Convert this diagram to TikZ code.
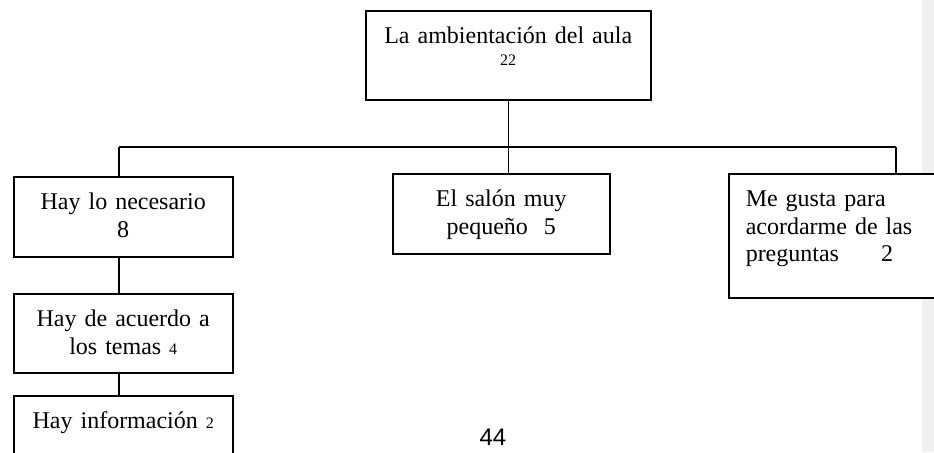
\documentclass[tikz,border=0pt]{standalone}
\usepackage{fontspec}
\setmainfont{Liberation Serif}
\newfontfamily\pagfont{Liberation Sans}
\usetikzlibrary{calc,positioning}
\tikzset{font={\fontsize{12pt}{13.8pt}\selectfont}}
\definecolor{margen}{HTML}{F0F0F0}
\tikzstyle{caja}=[draw,fill=white,line width=0.75pt,anchor=north west,align=center,inner xsep=4.5pt,inner ysep=4.5pt,text height=12pt]
\tikzstyle{linea}=[line width=0.75pt]
\newcommand{\cant}[1]{{\fontsize{8pt}{9pt}\selectfont #1}}

\begin{document}
\begin{tikzpicture}[x=0.5pt,y=-0.5pt]
        \clip (0,0) rectangle (934,452);
        \fill[margen] (922,0) rectangle (934,452);
        %
        \node[caja, text width=133.5pt, text depth=23.5pt] (raiz) at (365,10) {La ambientación del aula\\[-2.8pt]\cant{22}};
        \node[caja, text width=100.5pt, text depth=19pt] (nec) at (13,176) {Hay lo necesario\\8};
        \node[caja, text width=100.5pt, text depth=18.5pt] (temas) at (13,293) {Hay de acuerdo a\\los temas \cant{4}};
        \node[caja, text width=100.5pt, text depth=19pt] (info) at (13,395) {Hay información \cant{2}};
        \node[caja, text width=99.5pt, text depth=19pt] (salon) at (392,173) {El salón muy\\pequeño\hspace{8pt}5};
        \node[caja, align=left, inner xsep=8.5pt, text width=92.5pt, text depth=41pt] (gusta) at (728,173) {Me gusta para\\acordarme de las\\preguntas\hspace{21pt}2};
        %
        \path (raiz.south) ++(0,48) coordinate (bus);
        \coordinate (busizq) at (119,147);
        \coordinate (busder) at (896,147);
        \draw[linea] (raiz.south) -- (bus);
        \draw[linea] (busizq) -- (busder);
        \draw[linea] (busizq) -- (busizq |- nec.north);
        \draw[linea] (bus) -- (bus |- salon.north);
        \draw[linea] (busder) -- (busder |- gusta.north);
        \draw[linea] (nec.south -| busizq) -- (temas.north -| busizq);
        \draw[linea] (temas.south -| busizq) -- (info.north -| busizq);
        %
        \node[font={\pagfont\fontsize{12pt}{14pt}\selectfont}] (pag) at (493,437) {44};
    \end{tikzpicture}
\end{document}
